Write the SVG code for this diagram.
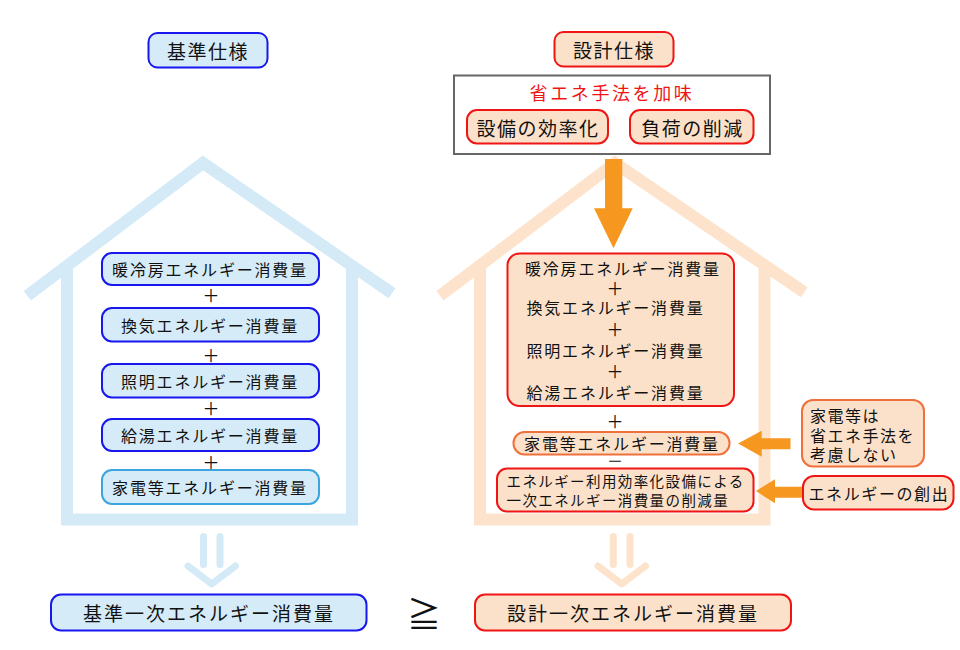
<svg xmlns="http://www.w3.org/2000/svg" width="960" height="650" viewBox="0 0 960 650">
<style>
text{font-family:"Noto Sans CJK JP","Noto Sans CJK SC",sans-serif;fill:#111;dominant-baseline:central}
.c{text-anchor:middle}
.t19{font-size:19px;letter-spacing:1.5px}
.t16{font-size:16px;letter-spacing:1.8px}
.t15{font-size:14.5px;letter-spacing:1.4px}
.hb{fill:none;stroke:#d4ebf7;stroke-width:12;stroke-linejoin:miter}
.hp{fill:none;stroke:#fde3cc;stroke-width:12;stroke-linejoin:miter}
.db{fill:none;stroke:#d4ebf7;stroke-width:7;stroke-linecap:round;stroke-linejoin:round}
.dp{fill:none;stroke:#fde3cc;stroke-width:7;stroke-linecap:round;stroke-linejoin:round}
.bb{fill:#d5ebf8;stroke:#1717ee;stroke-width:2}
.bl{fill:#d5ebf8;stroke:#3aa6dd;stroke-width:2}
.pr{fill:#fce1ca;stroke:#f01515;stroke-width:2}
.po{fill:#fce1ca;stroke:#f0703c;stroke-width:2}
.ar{fill:#f6981f}
.op{font-size:17px}
.nt{font-size:16px;letter-spacing:1.5px}
</style>

<g id="house-base">
<polyline class="hb" points="27.3,295.8 203,163 392,293.3"/>
<path class="hb" d="M67,264 V519.5 H352 V264"/>
</g>
<g id="house-design">
<polyline class="hp" points="440,295.8 615,163 804.2,292.3"/>
<path class="hp" d="M480,264 V519.5 H764.5 V264"/>
</g>

<g id="title-base">
<rect class="bb" x="148.5" y="33" width="119" height="34.5" rx="9"/>
<text class="c t19" x="208" y="50">基準仕様</text>
</g>
<g id="title-design">
<rect class="pr" x="554.5" y="32" width="119" height="34.5" rx="9"/>
<text class="c t19" x="614" y="49">設計仕様</text>
</g>

<g id="method">
<rect x="454" y="75.5" width="316" height="78.5" fill="#fff" stroke="#666" stroke-width="2"/>
<text class="c" x="612" y="92" style="font-size:18px;letter-spacing:2.6px;fill:#f01515">省エネ手法を加味</text>
</g>
<g id="efficiency">
<rect class="pr" x="467" y="110" width="141" height="33.5" rx="10"/>
<text class="c t19" x="538" y="127">設備の効率化</text>
</g>
<g id="reduction">
<rect class="pr" x="630" y="110" width="123.5" height="33.5" rx="10"/>
<text class="c t19" x="692.5" y="127">負荷の削減</text>
</g>

<g id="base-items">
<rect class="bb" x="102" y="253" width="217" height="32" rx="10"/>
<text class="c t16" x="210" y="269">暖冷房エネルギー消費量</text>
<text class="c op" x="211" y="294">＋</text>
<rect class="bb" x="102" y="308" width="217" height="33.5" rx="10"/>
<text class="c t16" x="210" y="325">換気エネルギー消費量</text>
<text class="c op" x="211" y="354">＋</text>
<rect class="bb" x="102" y="364" width="217" height="33.5" rx="10"/>
<text class="c t16" x="210" y="381">照明エネルギー消費量</text>
<text class="c op" x="211" y="407">＋</text>
<rect class="bb" x="102" y="419" width="217" height="32" rx="10"/>
<text class="c t16" x="210" y="435">給湯エネルギー消費量</text>
<text class="c op" x="211" y="461">＋</text>
</g>
<g id="base-appliance">
<rect class="bl" x="102" y="470" width="217" height="34" rx="10"/>
<text class="c t16" x="210" y="487">家電等エネルギー消費量</text>
</g>

<g id="design-items">
<rect class="pr" x="507.5" y="253.5" width="226.5" height="152.5" rx="12"/>
<text class="t16" x="525" y="268">暖冷房エネルギー消費量</text>
<text class="c op" x="615" y="287">＋</text>
<text class="t16" x="526.5" y="307">換気エネルギー消費量</text>
<text class="c op" x="615" y="328.5">＋</text>
<text class="t16" x="526.5" y="350">照明エネルギー消費量</text>
<text class="c op" x="615" y="370">＋</text>
<text class="t16" x="526.5" y="391.5">給湯エネルギー消費量</text>
</g>
<text class="c op" x="615" y="420">＋</text>
<g id="design-appliance">
<rect class="po" x="513.5" y="432" width="216" height="22.5" rx="11"/>
<text class="c t16" x="622" y="443">家電等エネルギー消費量</text>
</g>
<text class="c" x="615" y="460.5" style="font-size:15px;font-family:'Liberation Sans',sans-serif;transform-origin:615px 460.5px;transform:scaleX(1.6)">−</text>
<g id="design-generation">
<rect class="pr" x="497" y="468.5" width="256.5" height="43" rx="10"/>
<text class="t15" x="506.5" y="480">エネルギー利用効率化設備による</text>
<text class="t15" x="506.5" y="499.5">一次エネルギー消費量の削減量</text>
</g>

<g id="note-appliance">
<rect class="po" x="802" y="400" width="122" height="66.5" rx="11"/>
<text class="nt" x="810" y="415">家電等は</text>
<text class="nt" x="810" y="434.5">省エネ手法を</text>
<text class="nt" x="810" y="454">考慮しない</text>
</g>
<g id="note-generation">
<rect class="pr" x="803" y="476" width="150.5" height="33.5" rx="11"/>
<text x="808.5" y="493" style="font-size:16px;letter-spacing:1.6px">エネルギーの創出</text>
</g>

<g id="result-base">
<rect class="bb" x="51" y="594.5" width="315.5" height="36" rx="10"/>
<text class="c" x="209" y="612.5" style="font-size:19px;letter-spacing:2px">基準一次エネルギー消費量</text>
</g>
<g id="result-design">
<rect class="pr" x="475" y="594.5" width="316" height="36" rx="10"/>
<text class="c" x="633" y="612.5" style="font-size:19px;letter-spacing:2px">設計一次エネルギー消費量</text>
</g>
<text class="c" x="424" y="612" style="font-size:34px">≧</text>

<g id="connectors">
<polygon class="ar" points="605,159 622.3,159 622.3,208.3 632.7,208.3 613.5,248.3 594,208.3 605,208.3"/>
<polygon class="ar" points="738,443.5 761.7,430.7 761.7,438.3 790.5,438.3 790.5,449.3 761.7,449.3 761.7,456.7"/>
<polygon class="ar" points="756,491 775,479.3 775,486.7 802,486.7 802,497.7 775,497.7 775,503.3"/>
<line class="db" x1="203.5" y1="536.5" x2="203.5" y2="564.5"/>
<line class="db" x1="220" y1="536.5" x2="220" y2="564.5"/>
<polyline class="db" points="188,566 211.7,584 235.5,566"/>
<line class="dp" x1="613.3" y1="536.5" x2="613.3" y2="564.5"/>
<line class="dp" x1="630" y1="536.5" x2="630" y2="564.5"/>
<polyline class="dp" points="598,566 621.7,584 645.5,566"/>
</g>
</svg>
